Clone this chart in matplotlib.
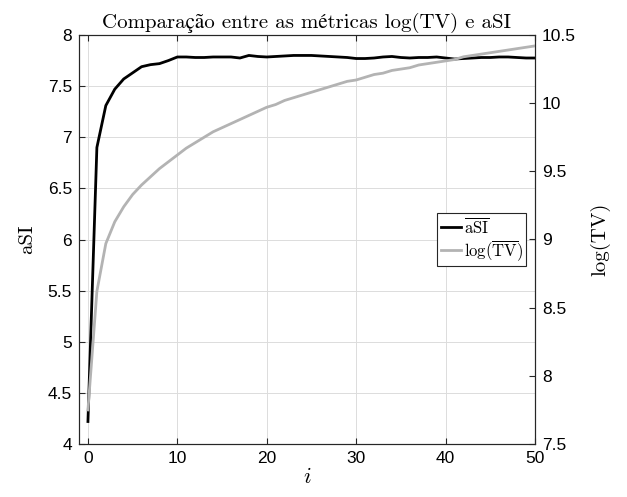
import matplotlib
matplotlib.use("Agg")
import matplotlib.pyplot as plt
import numpy as np

i_vals = list(range(0, 51))
asi = [4.22, 6.90, 7.31, 7.47, 7.57, 7.63, 7.69, 7.71, 7.72, 7.75,
       7.785, 7.785, 7.78, 7.78, 7.785, 7.785, 7.785, 7.775, 7.80, 7.79,
       7.785, 7.79, 7.795, 7.80, 7.80, 7.80, 7.795, 7.79, 7.785, 7.78,
       7.77, 7.77, 7.775, 7.785, 7.79, 7.78, 7.775, 7.78, 7.78, 7.785,
       7.775, 7.765, 7.77, 7.775, 7.78, 7.78, 7.785, 7.785, 7.78, 7.775,
       7.775]
logtv = [7.75, 8.62, 8.97, 9.13, 9.24, 9.33, 9.40, 9.46, 9.52, 9.57,
         9.62, 9.67, 9.71, 9.75, 9.79, 9.82, 9.85, 9.88, 9.91, 9.94,
         9.97, 9.99, 10.02, 10.04, 10.06, 10.08, 10.10, 10.12, 10.14, 10.16,
         10.17, 10.19, 10.21, 10.22, 10.24, 10.25, 10.26, 10.28, 10.29, 10.30,
         10.31, 10.32, 10.34, 10.35, 10.36, 10.37, 10.38, 10.39, 10.40, 10.41,
         10.42]
x_ticks = [0, 10, 20, 30, 40, 50]
left_ticks = [4, 4.5, 5, 5.5, 6, 6.5, 7, 7.5, 8]
left_labels = ["4", "4.5", "5", "5.5", "6", "6.5", "7", "7.5", "8"]
right_ticks = [7.5, 8, 8.5, 9, 9.5, 10, 10.5]
right_labels = ["7.5", "8", "8.5", "9", "9.5", "10", "10.5"]

plt.rcParams['mathtext.fontset'] = 'cm'
plt.rcParams['font.family'] = ['Liberation Sans', 'DejaVu Sans']
serif = ['cmr10', 'STIXGeneral', 'DejaVu Serif']
axcol = '#262626'

fig = plt.figure(figsize=(6.27, 4.97), dpi=100)
ax1 = fig.add_axes([79/627, 53/497, 456/627, 409/497])
ax2 = ax1.twinx()

l1, = ax1.plot(i_vals, asi, color='black', lw=2.0, solid_joinstyle='round')
l2, = ax2.plot(i_vals, logtv, color='#b3b3b3', lw=2.0, solid_joinstyle='round')

ax1.set_xlim(-1, 50)
ax1.set_ylim(4, 8)
ax2.set_ylim(7.5, 10.5)
ax1.set_xticks(x_ticks)
ax1.set_xticklabels([str(t) for t in x_ticks])
ax1.set_yticks(left_ticks)
ax1.set_yticklabels(left_labels)
ax2.set_yticks(right_ticks)
ax2.set_yticklabels(right_labels)

ax1.grid(True, color='#dcdcdc', lw=0.7)
ax1.set_axisbelow(True)

for ax in (ax1, ax2):
    for s in ax.spines.values():
        s.set_color(axcol)
        s.set_linewidth(0.8)
ax1.tick_params(axis='x', direction='in', length=4, width=0.8, color=axcol,
                labelsize=12.5, labelcolor='black', top=True, pad=5)
ax1.tick_params(axis='y', direction='in', length=4, width=0.8, color=axcol,
                labelsize=12.5, labelcolor='black', pad=5)
ax2.tick_params(axis='y', direction='in', length=4, width=0.8, color=axcol,
                labelsize=12.5, labelcolor='black', pad=5)

ax1.set_title('Comparação entre as métricas log(TV) e aSI', family=serif,
              fontsize=15, pad=5)
ax1.set_ylabel('aSI', family=serif, fontsize=15, labelpad=8)
ax2.set_ylabel('log(TV)', family=serif, fontsize=15, labelpad=10)
ax1.set_xlabel(r'$i$', fontsize=16, labelpad=1)

leg = ax2.legend([l1, l2], [r'$\overline{\mathrm{aSI}}$', r'$\log(\overline{\mathrm{TV}})$'],
                 loc='center right', bbox_to_anchor=(0.981, 0.5), fontsize=12,
                 fancybox=False, framealpha=1, edgecolor=axcol, handlelength=1.2,
                 handletextpad=0.2, borderpad=0.2, labelspacing=0.15, borderaxespad=0)
leg.get_frame().set_linewidth(0.8)

fig.savefig('out.png', dpi=100)
